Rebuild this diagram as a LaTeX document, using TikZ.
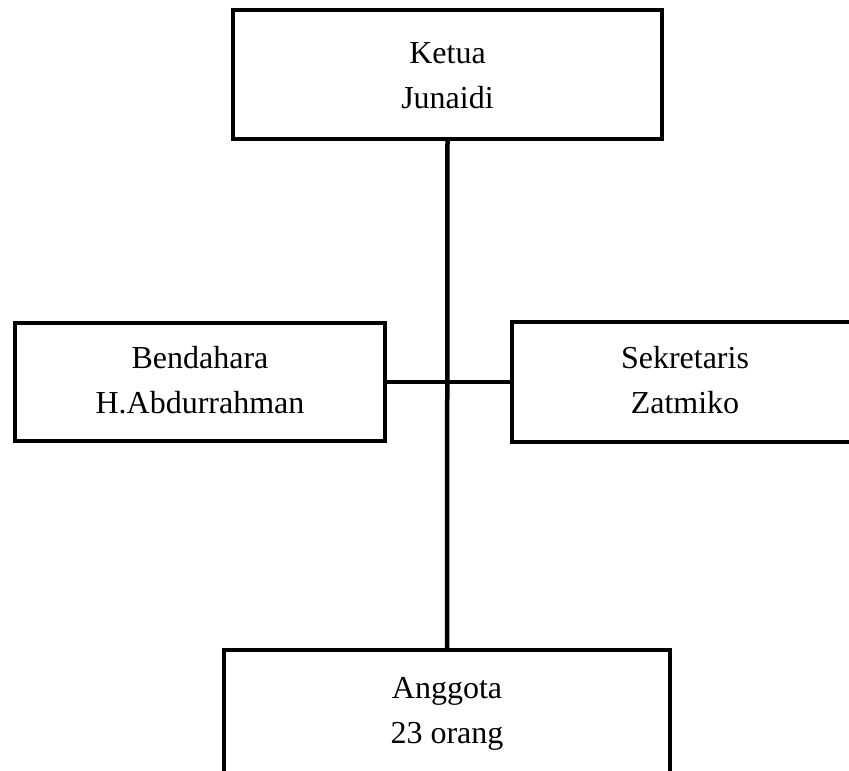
\documentclass[tikz,border=0pt]{standalone}
\usepackage{fontspec}
\setmainfont{Liberation Serif}
\begin{document}
\begin{tikzpicture}[x=1pt,y=-1pt,
  orgbox/.style={draw=black,line width=4.5pt,rectangle,inner sep=0pt,outer sep=0pt},
  lbl/.style={anchor=base,inner sep=0pt,font=\fontsize{32}{38}\selectfont},
  conn/.style={draw=black,line width=4.5pt}]
\useasboundingbox (0,0) rectangle (849,771);
\clip (0,0) rectangle (849,771);
\node[orgbox,minimum width=429pt,minimum height=129pt] (ketua) at (447.5,74.5) {};
\node[orgbox,minimum width=370pt,minimum height=118pt] (bend) at (200,382) {};
\node[orgbox,minimum width=368pt,minimum height=120pt] (sek) at (696,382) {};
\node[orgbox,minimum width=446pt,minimum height=150pt] (ang) at (447,725) {};
\coordinate (mid) at (447,382);
\draw[conn] (ketua.south) -- (ang.north);
\draw[conn] (bend.east) -- (mid) -- (sek.west);
\node[lbl] (k1) at (447.5,63) {Ketua};
\node[lbl] (k2) at (447.5,108) {Junaidi};
\node[lbl] (b1) at (200,368) {Bendahara};
\node[lbl] (b2) at (200,413) {H.Abdurrahman};
\node[lbl] (s1) at (685,368) {Sekretaris};
\node[lbl] (s2) at (685,413) {Zatmiko};
\node[lbl] (a1) at (447,698) {Anggota};
\node[lbl] (a2) at (447,743) {23 orang};
\end{tikzpicture}
\end{document}
